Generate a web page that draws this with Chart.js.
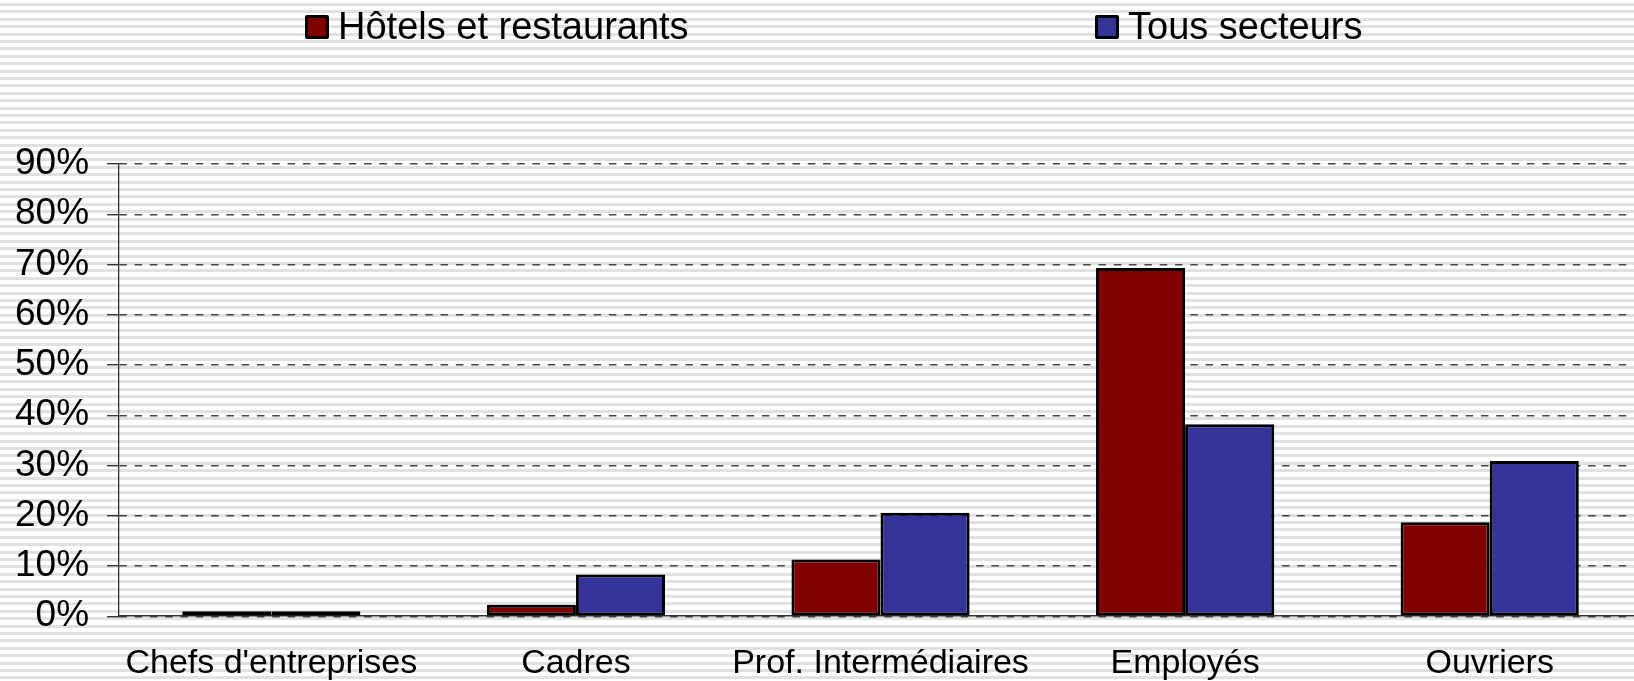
<!DOCTYPE html>
<html>
<head>
<meta charset="utf-8">
<script src="https://cdn.jsdelivr.net/npm/chart.js@4/dist/chart.umd.min.js"></script>
<style>
    html, body {
        margin: 0;
        padding: 0;
        width: 1634px;
        height: 681px;
        overflow: hidden;
        background: repeating-linear-gradient(to bottom, #ffffff 0px, #ffffff 3px, #e1e1e1 3px, #e1e1e1 6px, #ffffff 6px, #ffffff 7.4px);
        font-family: "Liberation Sans", Arial, sans-serif;
    }
    #wrap {
        position: relative;
        width: 1650px;
        height: 681px;
        overflow: hidden;
    }
    #chart {
        position: absolute;
        left: -3px;
        top: 0;
    }
    #legend {
        position: absolute;
        top: 5px;
        left: 305px;
        display: grid;
        grid-template-columns: 790px auto;
        font-size: 38px;
        color: #000;
    }
    .item {
        display: flex;
        align-items: center;
        white-space: nowrap;
    }
    .box {
        width: 18px;
        height: 18px;
        border: 3px solid #000;
        margin-right: 9px;
        border-radius: 2px;
    }
</style>
</head>
<body>
<div id="wrap">
    <canvas id="chart" width="1650" height="711"></canvas>
    <div id="legend"></div>
</div>
<script>
    var categories = ["Chefs d'entreprises", "Cadres", "Prof. Intermédiaires", "Employés", "Ouvriers"];
    var seriesNames = ["Hôtels et restaurants", "Tous secteurs"];
    var hotelsValues = [1.0, 2.3, 11.3, 69.3, 18.7];
    var allSectorsValues = [1.0, 8.3, 20.6, 38.2, 30.9];
    var seriesColors = ["#800000", "#333399"];
    var yTicks = [0, 10, 20, 30, 40, 50, 60, 70, 80, 90];

    // legend as html, built from the series names/colors
    var legendHtml = "";
    for (var i = 0; i < seriesNames.length; i++) {
        legendHtml += '<div class="item"><span class="box" style="background:' + seriesColors[i] + '"></span>' + seriesNames[i] + '</div>';
    }
    document.getElementById("legend").innerHTML = legendHtml;

    function makeDataset(idx, values) {
        return {
            label: seriesNames[idx],
            data: values,
            backgroundColor: seriesColors[idx],
            borderColor: '#000',
            borderWidth: 3,
            borderSkipped: false,
            barPercentage: 1,
            categoryPercentage: 0.585
        };
    }

    new Chart(document.getElementById("chart"), {
        type: 'bar',
        data: {
            labels: categories,
            datasets: [makeDataset(0, hotelsValues), makeDataset(1, allSectorsValues)]
        },
        options: {
            responsive: false,
            animation: false,
            layout: {
                padding: { top: 164, left: 0, right: 5, bottom: 0 }
            },
            plugins: {
                legend: { display: false },
                tooltip: { enabled: false }
            },
            scales: {
                x: {
                    grid: { display: false, drawTicks: false },
                    border: { display: true, color: '#333', width: 1.5 },
                    ticks: {
                        color: '#000',
                        font: { family: "'Liberation Sans', Arial, sans-serif", size: 34 },
                        padding: 27,
                        maxRotation: 0,
                        autoSkip: false
                    }
                },
                y: {
                    min: yTicks[0],
                    max: yTicks[yTicks.length - 1],
                    afterBuildTicks: function(scale) {
                        scale.ticks = yTicks.map(function(v) { return { value: v }; });
                    },
                    grid: {
                        color: '#454545',
                        lineWidth: 1.4,
                        tickLength: 12,
                        tickBorderDash: [],
                        tickColor: '#333'
                    },
                    border: { display: true, color: '#333', width: 1.3, dash: [7.5, 7.8] },
                    ticks: {
                        color: '#000',
                        font: { family: "'Liberation Sans', Arial, sans-serif", size: 37 },
                        padding: 18,
                        callback: function(v) { return v + '%'; }
                    }
                }
            }
        }
    });
</script>
</body>
</html>
